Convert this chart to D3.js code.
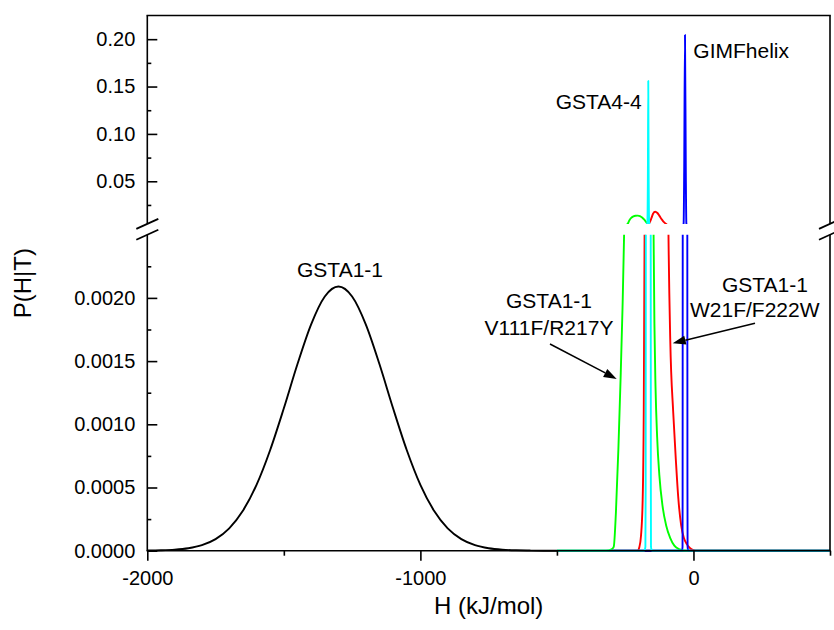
<!DOCTYPE html>
<html><head><meta charset="utf-8">
<script src="https://cdn.jsdelivr.net/npm/d3@7"></script>
<style>
body{margin:0;background:#fff}
text{font-family:"Liberation Sans",Arial,sans-serif;fill:#000}
</style>
</head><body><svg id="c" width="834" height="630"></svg>
<script>
// ---------------- data ----------------
const xTicksMajor = [-2000, -1000, 0];
const xTicksMinor = [-1500, -500, 500];
const yTicksUpper = [0.05, 0.10, 0.15, 0.20];
const yTicksUpperMinor = [0.025, 0.075, 0.125, 0.175];
const yTicksLower = [0, 0.0005, 0.0010, 0.0015, 0.0020];
const yTicksLowerMinor = [0.00025, 0.00075, 0.00125, 0.00175, 0.00225];

// GSTA1-1 (black)
const hBlack = [-2000,-1950,-1900,-1850,-1800,-1750,-1700,-1650,-1600,-1550,-1500,-1450,-1400,-1350,-1300,
  -1250,-1200,-1150,-1100,-1050,-1000,-950,-900,-850,-800,-750,-700,-650,-600,-550,500];
const pBlack = [0.0000011,0.0000031,0.0000081,0.0000196,0.0000441,0.0000918,0.000177,0.000316,0.000521,0.000797,0.001127,0.001477,0.001791,0.002011,0.00209,
  0.002011,0.001791,0.001477,0.001127,0.000797,0.000521,0.000316,0.000177,0.0000918,0.0000441,0.0000196,0.0000081,0.0000031,0.0000011,0,0];

// GSTA1-1 V111F/R217Y (green)
const hGreen = [-500,-320,-300,-292,-284,-275,-267,-260,-254,-241,-235,-228,-220,-212,-204,-196,-188,-180,-172,-166,-160,-146,-143,-139,-133,-125,-113,-100,-85,-70,-50,-30,500];
const pGreen = [0,0,0.00001,0.00003,0.0003,0.0008,0.00135,0.0019,0.0025,0.005,0.0085,0.0113,0.0129,0.0136,0.0137,0.0132,0.0117,0.0094,0.0065,0.005,0.0038,0.0025,0.0018,0.0013,0.0009,0.0006,0.00035,0.0002,0.0001,0.00004,0.00001,0,0];

// GSTA1-1 W21F/F222W (red)
const hRed = [-300,-205,-198,-192,-186,-182,-179,-170,-161,-154,-148,-140,-132,-124,-116,-108,-100,-92,-85,-74,-64,-56,-45,-35,-24,-12,0,10,500];
const pRed = [0,0,0.00003,0.00012,0.0004,0.0011,0.0025,0.0042,0.0062,0.011,0.0158,0.0179,0.0165,0.0132,0.0098,0.0068,0.005,0.0026,0.00167,0.00109,0.0007,0.00043,0.0002,0.0001,0.00005,0.00002,0.000005,0,0];

// GSTA4-4 (cyan)
const hCyan = [-500,-180,-176,-175,-174.5,-172,-169,-167,-165.5,-164,-162,-159,-156.5,-156,-155.5,-152,500];
const pCyan = [0,0,0.00003,0.0005,0.0025,0.004,0.0055,0.05,0.156,0.05,0.0055,0.004,0.0025,0.0005,0.00003,0,0];

// GIMFhelix (blue)
const hBlue = [-300,-42,-40,-39.7,-39.3,-37.5,-36,-34,-31,-28,-26,-24.5,-22.5,-22,-21.5,-19,500];
const pBlue = [0,0,0.00003,0.0005,0.0025,0.004,0.0055,0.06,0.2044,0.06,0.0055,0.004,0.0025,0.0005,0.00003,0,0];

const seriesColors = ["#000000","#00ff00","#ff0000","#0000ff","#00ffff"];

// ---------------- layout ----------------
const L = 147.3, R = 830, T = 15.5, B = 550.7;
const upBot = 223.9, lowTop = 234.7;

const svg = d3.select("#c");
const x = d3.scaleLinear().domain([-2000, 500]).range([L, R]);
const yUp = d3.scaleLinear().domain([0.005, 0.225]).range([upBot, T]);
const yLow = d3.scaleLinear().domain([0, 0.0025]).range([B, lowTop]);

const defs = svg.append("defs");
defs.append("clipPath").attr("id","clipUp").append("rect")
  .attr("x", L).attr("y", T).attr("width", R - L).attr("height", upBot - T);
defs.append("clipPath").attr("id","clipLow").append("rect")
  .attr("x", L).attr("y", lowTop).attr("width", R - L).attr("height", B - lowTop + 2);

const series = [
  {h: hBlack, p: pBlack, c: seriesColors[0]},
  {h: hGreen, p: pGreen, c: seriesColors[1]},
  {h: hRed, p: pRed, c: seriesColors[2]},
  {h: hBlue, p: pBlue, c: seriesColors[3]},
  {h: hCyan, p: pCyan, c: seriesColors[4]}
];

function drawSeries(yScale, clipId) {
  const g = svg.append("g").attr("clip-path", `url(#${clipId})`);
  series.forEach(s => {
    const pts = s.h.map((h, i) => [h, s.p[i]]);
    const line = d3.line().x(d => x(d[0])).y(d => yScale(d[1])).curve(d3.curveMonotoneX);
    g.append("path").attr("d", line(pts)).attr("fill","none")
      .attr("stroke", s.c).attr("stroke-width", 1.9).attr("stroke-linejoin","round");
  });
}
drawSeries(yLow, "clipLow");
drawSeries(yUp, "clipUp");

// ---------------- axes ----------------
const axStroke = 1.6;
function styleAxis(g) {
  g.select(".domain").remove();
  g.selectAll(".tick line").attr("stroke","#000").attr("stroke-width", axStroke);
  g.selectAll(".tick text").style("font-size","20px").attr("fill","#000");
}
svg.append("g").attr("transform",`translate(${L},0)`)
  .call(d3.axisLeft(yUp).tickValues(yTicksUpper).tickFormat(d3.format(".2f")).tickSize(-10).tickPadding(12)).call(styleAxis);
svg.append("g").attr("transform",`translate(${L},0)`)
  .call(d3.axisLeft(yUp).tickValues(yTicksUpperMinor).tickFormat("").tickSize(-4)).call(styleAxis);
svg.append("g").attr("transform",`translate(${L},0)`)
  .call(d3.axisLeft(yLow).tickValues(yTicksLower).tickFormat(d3.format(".4f")).tickSize(-10).tickPadding(12)).call(styleAxis);
svg.append("g").attr("transform",`translate(${L},0)`)
  .call(d3.axisLeft(yLow).tickValues(yTicksLowerMinor).tickFormat("").tickSize(-4)).call(styleAxis);
svg.append("g").attr("transform",`translate(0,${B})`)
  .call(d3.axisBottom(x).tickValues(xTicksMajor).tickFormat(d => String(d)).tickSize(10).tickPadding(10)).call(styleAxis);
svg.append("g").attr("transform",`translate(0,${B})`)
  .call(d3.axisBottom(x).tickValues(xTicksMinor).tickFormat("").tickSize(5)).call(styleAxis);

// frame
const frame = svg.append("g").attr("stroke","#000").attr("stroke-width", axStroke).attr("fill","none");
frame.append("line").attr("x1", L - 0.8).attr("x2", R + 0.8).attr("y1", T).attr("y2", T);
frame.append("line").attr("x1", L - 0.8).attr("x2", R + 0.8).attr("y1", B).attr("y2", B);
[L, R].forEach(xx => {
  frame.append("line").attr("x1", xx).attr("x2", xx).attr("y1", T).attr("y2", upBot);
  frame.append("line").attr("x1", xx).attr("x2", xx).attr("y1", lowTop).attr("y2", B);
  // break marks
  frame.append("line").attr("x1", xx - 11).attr("x2", xx + 11).attr("y1", upBot + 5).attr("y2", upBot - 5).attr("stroke-width", 1.8);
  frame.append("line").attr("x1", xx - 11).attr("x2", xx + 11).attr("y1", lowTop + 5).attr("y2", lowTop - 5).attr("stroke-width", 1.8);
});

// axis titles
svg.append("text").attr("x", (L + R) / 2).attr("y", 614).attr("text-anchor","middle")
  .style("font-size","24px").text("H (kJ/mol)");
svg.append("text").attr("transform", `translate(31,${(T + B) / 2}) rotate(-90)`).attr("text-anchor","middle")
  .style("font-size","24px").text("P(H|T)");

// annotations
function label(txt, xx, yy, anchor) {
  svg.append("text").attr("x", xx).attr("y", yy).attr("text-anchor", anchor).style("font-size","21px").text(txt);
}
label("GIMFhelix", 693.3, 57.7, "start");
label("GSTA4-4", 641.7, 109.3, "end");
label("GSTA1-1", 340, 277, "middle");
label("GSTA1-1", 549, 308, "middle");
label("V111F/R217Y", 549, 335, "middle");
label("GSTA1-1", 722, 291.7, "start");
label("W21F/F222W", 690, 316.7, "start");

function arrow(x1, y1, x2, y2) {
  const a = Math.atan2(y2 - y1, x2 - x1), len = 13, hw = 4.5;
  const bx = x2 - len * Math.cos(a), by = y2 - len * Math.sin(a);
  svg.append("line").attr("x1", x1).attr("y1", y1).attr("x2", bx).attr("y2", by)
    .attr("stroke","#000").attr("stroke-width", 1.5);
  svg.append("path").attr("d", `M${x2},${y2}L${bx + hw * Math.sin(a)},${by - hw * Math.cos(a)}L${bx - hw * Math.sin(a)},${by + hw * Math.cos(a)}Z`)
    .attr("fill","#000");
}
arrow(550, 344, 616.7, 379);
arrow(755, 323.3, 672.7, 343.3);
</script></body></html>
